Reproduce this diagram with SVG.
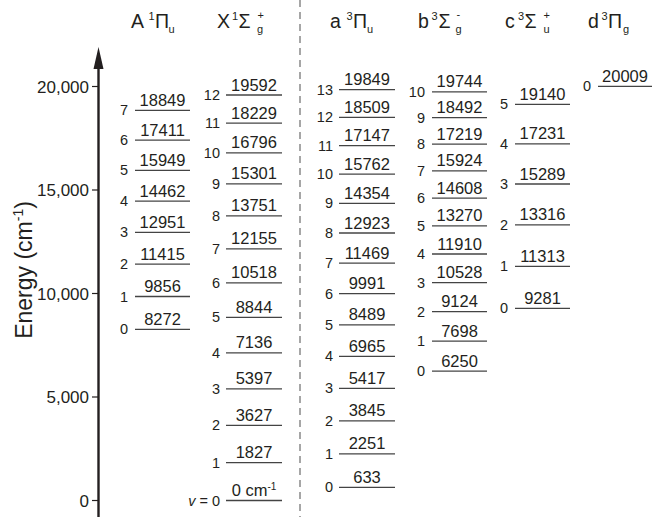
<svg xmlns="http://www.w3.org/2000/svg" width="652" height="517" viewBox="0 0 652 517">
<style>
text{font-family:"Liberation Sans",Arial,sans-serif;fill:#231f20}
.lv{stroke:#444;stroke-width:1.3}
.n{font-size:16.5px;text-anchor:middle}
.v{font-size:14.5px;text-anchor:end}
.h{font-size:19.5px}
.s{font-size:11px}
.t{font-size:17px;text-anchor:end}
.tk{stroke:#231f20;stroke-width:1.2}
</style>
<rect width="652" height="517" fill="#fff"/>
<!-- headers -->
<g id="headers">
<text class="h" y="28"><tspan x="131">A</tspan><tspan class="s" x="148.5" y="20">1</tspan><tspan x="155" y="28">Π</tspan><tspan class="s" x="168.5" y="33">u</tspan></text>
<text class="h" y="28"><tspan x="217">X</tspan><tspan class="s" x="232" y="20">1</tspan><tspan x="238.5" y="28">Σ</tspan><tspan class="s" x="257.5" y="19">+</tspan><tspan class="s" x="257" y="33">g</tspan></text>
<text class="h" y="28"><tspan x="330">a</tspan><tspan class="s" x="346.5" y="20">3</tspan><tspan x="353" y="28">Π</tspan><tspan class="s" x="367" y="33">u</tspan></text>
<text class="h" y="28"><tspan x="418">b</tspan><tspan class="s" x="431.5" y="20">3</tspan><tspan x="438.5" y="28">Σ</tspan><tspan class="s" x="456.5" y="18">-</tspan><tspan class="s" x="455.5" y="33">g</tspan></text>
<text class="h" y="28"><tspan x="505">c</tspan><tspan class="s" x="518" y="20">3</tspan><tspan x="524.5" y="28">Σ</tspan><tspan class="s" x="543.5" y="19">+</tspan><tspan class="s" x="543.5" y="33">u</tspan></text>
<text class="h" y="28"><tspan x="588">d</tspan><tspan class="s" x="601.5" y="20">3</tspan><tspan x="608" y="28">Π</tspan><tspan class="s" x="623" y="33">g</tspan></text>
</g>
<!-- divider -->
<line id="divider" x1="300" y1="0" x2="300" y2="517" stroke="#777" stroke-width="1.3" stroke-dasharray="7 5"/>
<!-- axis -->
<g id="axis">
<line x1="98.5" y1="64" x2="98.5" y2="517" stroke="#231f20" stroke-width="2.4"/>
<polygon points="98.5,47 93.5,69 103.5,69" fill="#231f20"/>
<line class="tk" x1="92" y1="86.5" x2="98.5" y2="86.5"/>
<line class="tk" x1="92" y1="190" x2="98.5" y2="190"/>
<line class="tk" x1="92" y1="293.5" x2="98.5" y2="293.5"/>
<line class="tk" x1="92" y1="397" x2="98.5" y2="397"/>
<line class="tk" x1="92" y1="500.5" x2="98.5" y2="500.5"/>
<text class="t" x="89" y="92.5">20,000</text>
<text class="t" x="89" y="196">15,000</text>
<text class="t" x="89" y="299.5">10,000</text>
<text class="t" x="89" y="403">5,000</text>
<text class="t" x="89" y="506.5">0</text>
<text font-size="23" text-anchor="middle" transform="translate(32,270) rotate(-90)">Energy (cm<tspan font-size="14" dy="-9">-1</tspan><tspan dy="9">)</tspan></text>
</g>
<!-- A 1Pi_u -->
<g id="A" transform="translate(135,0)">
<g id="A-v0"><line class="lv" x1="0" x2="55" y1="329.3" y2="329.3"/><text class="v" x="-7" y="334.3">0</text><text class="n" x="27.5" y="324.8">8272</text></g>
<g id="A-v1"><line class="lv" x1="0" x2="55" y1="296.5" y2="296.5"/><text class="v" x="-7" y="301.5">1</text><text class="n" x="27.5" y="292">9856</text></g>
<g id="A-v2"><line class="lv" x1="0" x2="55" y1="264.2" y2="264.2"/><text class="v" x="-7" y="269.2">2</text><text class="n" x="27.5" y="259.7">11415</text></g>
<g id="A-v3"><line class="lv" x1="0" x2="55" y1="232.4" y2="232.4"/><text class="v" x="-7" y="237.4">3</text><text class="n" x="27.5" y="227.9">12951</text></g>
<g id="A-v4"><line class="lv" x1="0" x2="55" y1="201.1" y2="201.1"/><text class="v" x="-7" y="206.1">4</text><text class="n" x="27.5" y="196.6">14462</text></g>
<g id="A-v5"><line class="lv" x1="0" x2="55" y1="170.4" y2="170.4"/><text class="v" x="-7" y="175.4">5</text><text class="n" x="27.5" y="165.9">15949</text></g>
<g id="A-v6"><line class="lv" x1="0" x2="55" y1="140.1" y2="140.1"/><text class="v" x="-7" y="145.1">6</text><text class="n" x="27.5" y="135.6">17411</text></g>
<g id="A-v7"><line class="lv" x1="0" x2="55" y1="110.3" y2="110.3"/><text class="v" x="-7" y="115.3">7</text><text class="n" x="27.5" y="105.8">18849</text></g>
</g>
<!-- X 1Sigma_g+ -->
<g id="X" transform="translate(226,0)">
<g id="X-v0"><line class="lv" x1="0" x2="56" y1="500.5" y2="500.5"/><text class="v" x="-6" y="505.5"><tspan font-style="italic">v</tspan> = 0</text><text class="n" x="28" y="496">0 cm<tspan font-size="10" dy="-6">-1</tspan></text></g>
<g id="X-v1"><line class="lv" x1="0" x2="56" y1="462.7" y2="462.7"/><text class="v" x="-6" y="467.7">1</text><text class="n" x="28" y="458.2">1827</text></g>
<g id="X-v2"><line class="lv" x1="0" x2="56" y1="425.4" y2="425.4"/><text class="v" x="-6" y="430.4">2</text><text class="n" x="28" y="420.9">3627</text></g>
<g id="X-v3"><line class="lv" x1="0" x2="56" y1="388.8" y2="388.8"/><text class="v" x="-6" y="393.8">3</text><text class="n" x="28" y="384.3">5397</text></g>
<g id="X-v4"><line class="lv" x1="0" x2="56" y1="352.8" y2="352.8"/><text class="v" x="-6" y="357.8">4</text><text class="n" x="28" y="348.3">7136</text></g>
<g id="X-v5"><line class="lv" x1="0" x2="56" y1="317.4" y2="317.4"/><text class="v" x="-6" y="322.4">5</text><text class="n" x="28" y="312.9">8844</text></g>
<g id="X-v6"><line class="lv" x1="0" x2="56" y1="282.8" y2="282.8"/><text class="v" x="-6" y="287.8">6</text><text class="n" x="28" y="278.3">10518</text></g>
<g id="X-v7"><line class="lv" x1="0" x2="56" y1="248.9" y2="248.9"/><text class="v" x="-6" y="253.9">7</text><text class="n" x="28" y="244.4">12155</text></g>
<g id="X-v8"><line class="lv" x1="0" x2="56" y1="215.9" y2="215.9"/><text class="v" x="-6" y="220.9">8</text><text class="n" x="28" y="211.4">13751</text></g>
<g id="X-v9"><line class="lv" x1="0" x2="56" y1="183.8" y2="183.8"/><text class="v" x="-6" y="188.8">9</text><text class="n" x="28" y="179.3">15301</text></g>
<g id="X-v10"><line class="lv" x1="0" x2="56" y1="152.8" y2="152.8"/><text class="v" x="-6" y="157.8">10</text><text class="n" x="28" y="148.3">16796</text></g>
<g id="X-v11"><line class="lv" x1="0" x2="56" y1="123.2" y2="123.2"/><text class="v" x="-6" y="128.2">11</text><text class="n" x="28" y="118.7">18229</text></g>
<g id="X-v12"><line class="lv" x1="0" x2="56" y1="95" y2="95"/><text class="v" x="-6" y="100">12</text><text class="n" x="28" y="90.5">19592</text></g>
</g>
<!-- a 3Pi_u -->
<g id="a" transform="translate(339,0)">
<g id="a-v0"><line class="lv" x1="0" x2="56" y1="487.4" y2="487.4"/><text class="v" x="-6" y="492.4">0</text><text class="n" x="28" y="482.9">633</text></g>
<g id="a-v1"><line class="lv" x1="0" x2="56" y1="453.9" y2="453.9"/><text class="v" x="-6" y="458.9">1</text><text class="n" x="28" y="449.4">2251</text></g>
<g id="a-v2"><line class="lv" x1="0" x2="56" y1="420.9" y2="420.9"/><text class="v" x="-6" y="425.9">2</text><text class="n" x="28" y="416.4">3845</text></g>
<g id="a-v3"><line class="lv" x1="0" x2="56" y1="388.4" y2="388.4"/><text class="v" x="-6" y="393.4">3</text><text class="n" x="28" y="383.9">5417</text></g>
<g id="a-v4"><line class="lv" x1="0" x2="56" y1="356.3" y2="356.3"/><text class="v" x="-6" y="361.3">4</text><text class="n" x="28" y="351.8">6965</text></g>
<g id="a-v5"><line class="lv" x1="0" x2="56" y1="324.8" y2="324.8"/><text class="v" x="-6" y="329.8">5</text><text class="n" x="28" y="320.3">8489</text></g>
<g id="a-v6"><line class="lv" x1="0" x2="56" y1="293.7" y2="293.7"/><text class="v" x="-6" y="298.7">6</text><text class="n" x="28" y="289.2">9991</text></g>
<g id="a-v7"><line class="lv" x1="0" x2="56" y1="263.1" y2="263.1"/><text class="v" x="-6" y="268.1">7</text><text class="n" x="28" y="258.6">11469</text></g>
<g id="a-v8"><line class="lv" x1="0" x2="56" y1="233" y2="233"/><text class="v" x="-6" y="238">8</text><text class="n" x="28" y="228.5">12923</text></g>
<g id="a-v9"><line class="lv" x1="0" x2="56" y1="203.4" y2="203.4"/><text class="v" x="-6" y="208.4">9</text><text class="n" x="28" y="198.9">14354</text></g>
<g id="a-v10"><line class="lv" x1="0" x2="56" y1="174.2" y2="174.2"/><text class="v" x="-6" y="179.2">10</text><text class="n" x="28" y="169.7">15762</text></g>
<g id="a-v11"><line class="lv" x1="0" x2="56" y1="145.6" y2="145.6"/><text class="v" x="-6" y="150.6">11</text><text class="n" x="28" y="141.1">17147</text></g>
<g id="a-v12"><line class="lv" x1="0" x2="56" y1="117.4" y2="117.4"/><text class="v" x="-6" y="122.4">12</text><text class="n" x="28" y="112.9">18509</text></g>
<g id="a-v13"><line class="lv" x1="0" x2="56" y1="89.6" y2="89.6"/><text class="v" x="-6" y="94.6">13</text><text class="n" x="28" y="85.1">19849</text></g>
</g>
<!-- b 3Sigma_g- -->
<g id="b" transform="translate(432,0)">
<g id="b-v0"><line class="lv" x1="0" x2="55" y1="371.1" y2="371.1"/><text class="v" x="-7" y="376.1">0</text><text class="n" x="27.5" y="366.6">6250</text></g>
<g id="b-v1"><line class="lv" x1="0" x2="55" y1="341.2" y2="341.2"/><text class="v" x="-7" y="346.2">1</text><text class="n" x="27.5" y="336.7">7698</text></g>
<g id="b-v2"><line class="lv" x1="0" x2="55" y1="311.6" y2="311.6"/><text class="v" x="-7" y="316.6">2</text><text class="n" x="27.5" y="307.1">9124</text></g>
<g id="b-v3"><line class="lv" x1="0" x2="55" y1="282.6" y2="282.6"/><text class="v" x="-7" y="287.6">3</text><text class="n" x="27.5" y="278.1">10528</text></g>
<g id="b-v4"><line class="lv" x1="0" x2="55" y1="254" y2="254"/><text class="v" x="-7" y="259">4</text><text class="n" x="27.5" y="249.5">11910</text></g>
<g id="b-v5"><line class="lv" x1="0" x2="55" y1="225.8" y2="225.8"/><text class="v" x="-7" y="230.8">5</text><text class="n" x="27.5" y="221.3">13270</text></g>
<g id="b-v6"><line class="lv" x1="0" x2="55" y1="198.1" y2="198.1"/><text class="v" x="-7" y="203.1">6</text><text class="n" x="27.5" y="193.6">14608</text></g>
<g id="b-v7"><line class="lv" x1="0" x2="55" y1="170.9" y2="170.9"/><text class="v" x="-7" y="175.9">7</text><text class="n" x="27.5" y="166.4">15924</text></g>
<g id="b-v8"><line class="lv" x1="0" x2="55" y1="144.1" y2="144.1"/><text class="v" x="-7" y="149.1">8</text><text class="n" x="27.5" y="139.6">17219</text></g>
<g id="b-v9"><line class="lv" x1="0" x2="55" y1="117.7" y2="117.7"/><text class="v" x="-7" y="122.7">9</text><text class="n" x="27.5" y="113.2">18492</text></g>
<g id="b-v10"><line class="lv" x1="0" x2="55" y1="91.8" y2="91.8"/><text class="v" x="-7" y="96.8">10</text><text class="n" x="27.5" y="87.3">19744</text></g>
</g>
<!-- c 3Sigma_u+ -->
<g id="c" transform="translate(515,0)">
<g id="c-v0"><line class="lv" x1="0" x2="55" y1="308.4" y2="308.4"/><text class="v" x="-7" y="313.4">0</text><text class="n" x="27.5" y="303.9">9281</text></g>
<g id="c-v1"><line class="lv" x1="0" x2="55" y1="266.3" y2="266.3"/><text class="v" x="-7" y="271.3">1</text><text class="n" x="27.5" y="261.8">11313</text></g>
<g id="c-v2"><line class="lv" x1="0" x2="55" y1="224.9" y2="224.9"/><text class="v" x="-7" y="229.9">2</text><text class="n" x="27.5" y="220.4">13316</text></g>
<g id="c-v3"><line class="lv" x1="0" x2="55" y1="184" y2="184"/><text class="v" x="-7" y="189">3</text><text class="n" x="27.5" y="179.5">15289</text></g>
<g id="c-v4"><line class="lv" x1="0" x2="55" y1="143.8" y2="143.8"/><text class="v" x="-7" y="148.8">4</text><text class="n" x="27.5" y="139.3">17231</text></g>
<g id="c-v5"><line class="lv" x1="0" x2="55" y1="104.3" y2="104.3"/><text class="v" x="-7" y="109.3">5</text><text class="n" x="27.5" y="99.8">19140</text></g>
</g>
<!-- d 3Pi_g -->
<g id="d" transform="translate(598,0)">
<g id="d-v0"><line class="lv" x1="0" x2="54" y1="86.3" y2="86.3"/><text class="v" x="-7" y="91.3">0</text><text class="n" x="27" y="81.8">20009</text></g>
</g>
</svg>
